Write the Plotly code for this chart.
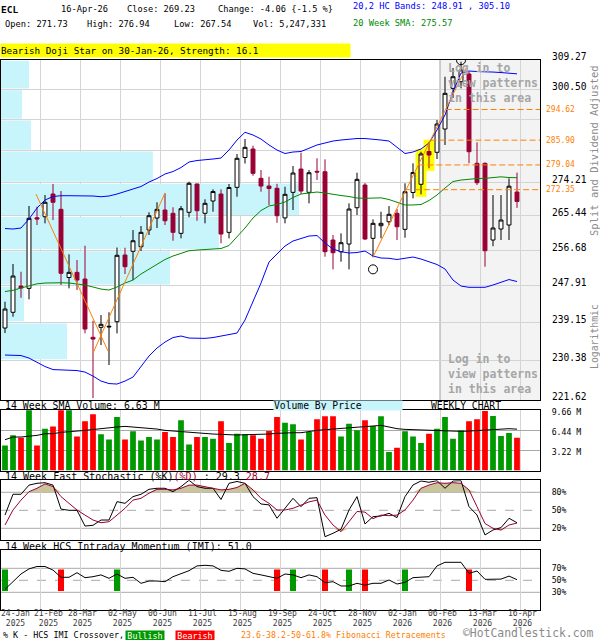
import math
import plotly.graph_objects as go

# ---------------- data ----------------
tick_dates = ["24-Jan", "21-Feb", "28-Mar", "02-May", "06-Jun", "11-Jul", "15-Aug",
              "19-Sep", "24-Oct", "28-Nov", "02-Jan", "06-Feb", "13-Mar", "16-Apr"]
tick_years = ["2025"] * 10 + ["2026"] * 4

opens = [237.82, 241.51, 247.81, 247.25, 264.97, 265.23, 271.20, 267.16, 249.89, 251.16,
         249.52, 235.66, 237.98, 238.05, 239.29, 255.46, 256.39, 257.54, 261.79, 264.89,
         266.98, 266.12, 260.95, 266.38, 273.87, 266.12, 269.35, 271.20, 261.20, 272.98,
         281.08, 283.43, 275.40, 273.33, 272.72, 264.92, 271.65, 277.92, 271.65, 277.30,
         277.19, 259.24, 256.29, 258.23, 267.58, 273.60, 259.67, 262.90, 263.93, 266.12,
         261.97, 271.60, 273.79, 282.74, 282.52, 289.04, 300.80, 302.76, 305.05, 279.49,
         279.49, 259.24, 262.05, 263.08, 271.73]
highs = [244.03, 253.22, 251.31, 268.03, 267.85, 270.94, 273.87, 271.99, 255.64, 254.21,
         257.80, 239.53, 240.87, 241.51, 257.34, 257.29, 261.79, 262.82, 266.38, 269.01,
         271.39, 267.69, 268.03, 274.48, 274.00, 269.80, 272.45, 272.45, 273.87, 282.05,
         286.22, 284.35, 277.65, 275.84, 273.95, 273.14, 278.74, 282.40, 277.65, 280.86,
         280.58, 260.52, 260.95, 268.74, 276.92, 274.14, 264.55, 266.54, 268.03, 267.24,
         274.06, 279.49, 282.68, 285.30, 291.60, 304.24, 306.85, 308.76, 305.74, 285.30,
         279.71, 270.94, 270.94, 275.40, 276.94]
lows = [236.65, 240.47, 244.98, 244.60, 263.08, 263.52, 264.37, 248.06, 247.25, 246.84,
        236.58, 222.04, 233.88, 229.35, 236.58, 250.75, 249.27, 256.46, 260.52, 262.31,
        263.08, 259.06, 259.67, 265.08, 264.19, 263.52, 266.54, 258.41, 259.67, 270.48,
        279.43, 276.10, 271.81, 268.30, 263.67, 263.52, 266.98, 271.20, 268.74, 274.94,
        255.04, 251.90, 253.79, 251.90, 265.68, 259.24, 254.89, 259.67, 263.08, 259.24,
        259.83, 270.06, 271.12, 278.12, 280.67, 284.55, 297.96, 300.80, 279.49, 273.60,
        252.55, 257.67, 259.24, 259.24, 267.54]
closes = [242.29, 250.25, 247.33, 264.81, 264.63, 269.01, 269.01, 250.92, 251.16, 249.27,
          237.58, 235.26, 238.68, 238.21, 255.39, 252.55, 259.06, 261.20, 265.49, 267.16,
          264.19, 261.20, 267.32, 274.06, 266.80, 268.74, 271.86, 260.77, 272.93, 280.86,
          283.90, 276.75, 273.33, 272.66, 265.49, 271.12, 276.84, 271.99, 276.92, 277.11,
          256.29, 256.04, 258.56, 267.24, 275.13, 259.50, 263.52, 263.52, 265.86, 262.64,
          271.81, 276.97, 282.05, 281.77, 290.46, 299.33, 304.24, 306.25, 282.68, 274.22,
          256.54, 262.31, 264.37, 273.29, 269.23]

upper_band = [262.18, 262.05, 262.31, 264.63, 267.50, 269.61, 270.54, 270.75, 270.75, 270.75,
              270.75, 270.67, 270.48, 270.67, 271.20, 271.86, 272.53, 273.20, 274.40, 275.35,
              276.57, 277.24, 278.33, 279.84, 280.25, 280.39, 280.67, 280.94, 283.15, 285.94,
              288.11, 287.35, 286.22, 284.55, 283.15, 282.18, 282.60, 282.74, 283.71, 284.55,
              285.10, 285.66, 285.94, 286.22, 286.36, 286.36, 286.22, 285.94, 285.66, 283.99,
              282.18, 282.60, 283.43, 285.10, 288.76, 293.04, 299.71, 305.34, 305.94, 305.79,
              305.79, 305.64, 305.49, 305.34, 305.10]
lower_band = [231.61, 231.61, 231.49, 230.92, 230.02, 229.01, 228.33, 228.22, 228.22, 228.11,
              227.77, 226.88, 225.77, 225.22, 225.11, 225.77, 226.66, 229.12, 231.38, 233.20,
              234.57, 235.61, 235.96, 235.49, 235.42, 235.42, 235.61, 235.96, 236.19, 236.65,
              239.69, 243.95, 248.54, 253.71, 255.71, 257.72, 258.99, 259.67, 260.26, 260.39,
              258.48, 256.96, 256.29, 255.96, 256.09, 256.46, 255.21, 254.71, 254.64, 254.34,
              254.59, 254.96, 254.46, 253.84, 253.10, 251.98, 249.27, 247.81, 247.50, 247.50,
              247.50, 248.06, 248.78, 249.39, 248.91]
sma20 = [246.48, 246.77, 247.33, 247.93, 248.35, 248.54, 248.61, 248.61, 248.54, 248.35,
         248.06, 247.57, 247.08, 246.84, 247.57, 248.54, 249.27, 250.75, 251.98, 253.09,
         254.34, 255.21, 255.96, 256.54, 256.71, 256.84, 256.89, 257.09, 257.85, 260.02,
         262.31, 264.89, 266.85, 268.03, 268.43, 269.08, 270.27, 271.20, 271.47, 271.73,
         271.47, 271.07, 270.80, 270.54, 270.14, 270.06, 270.14, 270.19, 269.74, 268.95,
         268.30, 268.30, 268.43, 269.48, 270.94, 272.80, 274.54, 274.94, 275.21, 275.35,
         275.40, 275.62, 275.81, 275.62, 275.57]

volume_m = [4.03, 5.64, 5.26, 9.9, 4.03, 6.71, 7.08, 10.3, 10.0, 5.47,
            7.89, 9.02, 5.80, 4.99, 8.58, 4.99, 6.28, 4.83, 5.36, 4.99,
            6.17, 5.36, 8.05, 4.19, 5.36, 5.36, 5.10, 7.89, 4.40, 5.90,
            5.80, 5.64, 5.10, 6.33, 8.58, 7.67, 7.41, 4.99, 6.17, 8.21,
            8.69, 8.69, 5.47, 7.51, 6.44, 8.05, 7.14, 8.69, 2.95, 3.65,
            6.28, 5.47, 4.40, 5.90, 6.71, 8.58, 5.10, 6.44, 7.89, 8.21,
            9.55, 8.74, 5.52, 6.01, 5.25]
vol_sma_m = [4.94, 5.37, 5.37, 5.47, 5.64, 5.90, 5.90, 6.12, 6.17, 6.33,
             6.44, 6.60, 6.71, 6.82, 6.98, 7.08, 6.98, 6.87, 6.76, 6.65,
             6.44, 6.33, 6.17, 6.06, 5.96, 5.90, 5.85, 5.80, 5.69, 5.69,
             5.74, 5.74, 5.74, 5.85, 5.96, 6.06, 6.06, 6.06, 6.28, 6.44,
             6.55, 6.65, 6.71, 6.82, 6.98, 7.08, 7.19, 7.24, 6.98, 6.71,
             6.60, 6.55, 6.44, 6.39, 6.33, 6.28, 6.28, 6.28, 6.33, 6.39,
             6.44, 6.55, 6.55, 6.71, 6.63]
vol_ticks_m = [3.22, 6.44, 9.66]

stoch_k = [42, 76.7, 76.7, 92, 95, 96, 92, 52, 50, 50,
           23.8, 25, 33.8, 33.8, 64.4, 61.6, 72.8, 76.7, 85, 86.7,
           86.7, 81, 89.5, 100, 89.5, 86.7, 86.7, 68, 95, 98,
           95, 72.8, 60.5, 59, 36.7, 53.3, 70, 56, 70, 71,
           6, 11.7, 18.3, 50.5, 72.8, 27.2, 39.4, 40.5, 45, 37.8,
           72.8, 92.2, 98.9, 96.7, 99.4, 86.7, 98.9, 99.4, 56.1, 42.2,
           8.9, 17.2, 21.1, 36.7, 29.3]
stoch_d = [25.5, 50.5, 67, 81, 86.7, 94, 89.5, 72.8, 61.6, 50.5,
           42, 33.8, 29.3, 31, 42, 53.3, 67, 70, 78.4, 85,
           85, 84, 86.7, 92, 92, 89.5, 86.7, 84, 85, 88,
           95, 84, 70, 61.6, 50.5, 50.5, 53.3, 58, 64, 67,
           42, 25.5, 14.4, 31, 48, 47, 36, 42, 41, 42,
           50.5, 67, 86.7, 92, 96, 95, 96, 95, 84, 56,
           28, 20, 17, 25.5, 28.7]
stoch_levels = [20, 50, 80]

imi = [35, 47.7, 60.5, 69, 73, 73, 67, 55, 55, 62.7,
       54.4, 56, 59, 53.3, 60.5, 53.3, 55, 45, 48.8, 48.8,
       47.7, 56, 60.5, 66, 74, 75, 74, 66.6, 65, 70,
       69, 61.6, 59, 56, 53.3, 60.5, 59, 54.4, 59, 56,
       46, 47.7, 40.5, 40.5, 45, 42, 45, 45, 50.5, 43.8,
       46.6, 54.4, 55, 56, 74, 80, 80, 80, 61.6, 65.5,
       51.6, 52, 52, 57, 51]
imi_levels = [30, 50, 70]
imi_bull_weeks = [0, 14, 36, 43, 50]
imi_bear_weeks = [7, 34, 40, 45, 58]
imi_cross_span = [32, 68]

price_grid = [309.27, 300.50, 291.74, 282.97, 274.21, 265.44, 256.68, 247.91, 239.15, 230.38, 221.62]
price_tick_text = ["309.27", "300.50", "", "", "274.21", "265.44", "256.68", "247.91", "239.15", "230.38", "221.62"]
vbp_volume_m = [11.7, 8.8, 12.5, 63.3, 124.2, 90.8, 70.4, 9.6, 27.5, 0.0]
VBP_FULL_SCALE_M = 224.6

fib_levels = [294.62, 285.90, 279.04, 272.35]
pattern_a_x, pattern_a_y = [3.875, 12.875], [271.20, 232.51]
pattern_b_x, pattern_b_y = [11.0, 20.0], [232.06, 271.47]
fib_swing_x, fib_swing_y = [46.0, 57.625], [254.96, 306.85]
pivot_x, pivot_y = [46, 57], [251.9, 309.2]
highlight_weeks = [52, 53]

# ---------------- styling ----------------
W, H = 600, 640
MONO = "DejaVu Sans Mono"
MAROON = "#990033"
CYAN = "#c8f4fc"
VGREEN = "#009900"
VRED = "#ff0000"
BLUE = "#0000ff"
SGREEN = "#008800"
ORANGE = "#ff8000"
TAN = "#c9c49b"
GRID = "#d4d4d4"
GRID_DARK = "#a8a8a8"

N = len(closes)
weeks = list(range(N))
X0, X1 = -0.5, 66.875
label_pos = [-0.625 + 5 * j for j in range(len(tick_dates))]
grid_x = label_pos[1:]
LOGIN_J = 11
main_grid_x = [g for g in grid_x if g != label_pos[LOGIN_J]]

fig = go.Figure()

# --- main price panel ---
band_mid = [(price_grid[i] + price_grid[i + 1]) / 2 for i in range(len(vbp_volume_m))]
band_h = [(price_grid[i] - price_grid[i + 1]) * 0.94 for i in range(len(vbp_volume_m))]
vbp_len = [v / VBP_FULL_SCALE_M * (X1 - X0) for v in vbp_volume_m]
fig.add_trace(go.Bar(x=vbp_len, y=band_mid, width=band_h, base=X0, orientation="h",
                     marker=dict(color=CYAN, line=dict(width=0)), hoverinfo="skip",
                     xaxis="x", yaxis="y"))

hl_lo = [lows[k] / 1.0025 for k in highlight_weeks]
hl_hi = [highs[k] * 1.0025 for k in highlight_weeks]
fig.add_trace(go.Bar(x=highlight_weeks, y=[h - l for h, l in zip(hl_hi, hl_lo)], base=hl_lo,
                     width=1.375, marker=dict(color="#ffff00", line=dict(width=0)),
                     hoverinfo="skip", xaxis="x", yaxis="y"))

fig.add_trace(go.Candlestick(
    x=weeks, open=opens, high=highs, low=lows, close=closes,
    increasing=dict(line=dict(color="black", width=1), fillcolor="white"),
    decreasing=dict(line=dict(color=MAROON, width=1), fillcolor=MAROON),
    whiskerwidth=0, hoverinfo="skip", xaxis="x", yaxis="y"))

for series, col in [(upper_band, BLUE), (lower_band, BLUE), (sma20, SGREEN)]:
    fig.add_trace(go.Scatter(x=weeks, y=series, mode="lines", line=dict(color=col, width=1),
                             hoverinfo="skip", xaxis="x", yaxis="y"))

for px_, py_ in [(pattern_a_x, pattern_a_y), (pattern_b_x, pattern_b_y), (fib_swing_x, fib_swing_y)]:
    fig.add_trace(go.Scatter(x=px_, y=py_, mode="lines", line=dict(color=ORANGE, width=1),
                             hoverinfo="skip", xaxis="x", yaxis="y"))

l0, l1 = math.log(fib_swing_y[0]), math.log(fib_swing_y[1])
for lv in fib_levels:
    t = (math.log(lv) - l0) / (l1 - l0)
    xs = fib_swing_x[0] + t * (fib_swing_x[1] - fib_swing_x[0])
    fig.add_trace(go.Scatter(x=[xs, X1], y=[lv, lv], mode="lines",
                             line=dict(color=ORANGE, width=1, dash="6px,3px"),
                             hoverinfo="skip", xaxis="x", yaxis="y"))

fig.add_trace(go.Scatter(x=pivot_x, y=pivot_y, mode="markers",
                         marker=dict(symbol="circle-open", size=9, color="black", line=dict(width=1)),
                         hoverinfo="skip", xaxis="x", yaxis="y"))

# --- volume panel ---
vol_colors = [VGREEN if c >= o else VRED for o, c in zip(opens, closes)]
fig.add_trace(go.Bar(x=weeks, y=volume_m, width=0.72, marker=dict(color=vol_colors, line=dict(width=0)),
                     hoverinfo="skip", xaxis="x2", yaxis="y2"))
fig.add_trace(go.Scatter(x=weeks, y=vol_sma_m, mode="lines", line=dict(color="black", width=1),
                         hoverinfo="skip", xaxis="x2", yaxis="y2"))

# --- stochastic panel ---
hi_lv, lo_lv = stoch_levels[2], stoch_levels[0]
fig.add_trace(go.Scatter(x=weeks, y=[hi_lv] * N, mode="lines", line=dict(width=0), hoverinfo="skip",
                         xaxis="x3", yaxis="y3"))
fig.add_trace(go.Scatter(x=weeks, y=[max(d, hi_lv) for d in stoch_d], mode="lines", line=dict(width=0),
                         fill="tonexty", fillcolor=TAN, hoverinfo="skip", xaxis="x3", yaxis="y3"))
fig.add_trace(go.Scatter(x=weeks, y=[lo_lv] * N, mode="lines", line=dict(width=0), hoverinfo="skip",
                         xaxis="x3", yaxis="y3"))
fig.add_trace(go.Scatter(x=weeks, y=[min(d, lo_lv) for d in stoch_d], mode="lines", line=dict(width=0),
                         fill="tonexty", fillcolor=TAN, hoverinfo="skip", xaxis="x3", yaxis="y3"))
fig.add_trace(go.Scatter(x=weeks, y=stoch_k, mode="lines", line=dict(color="black", width=1),
                         hoverinfo="skip", xaxis="x3", yaxis="y3"))
fig.add_trace(go.Scatter(x=weeks, y=stoch_d, mode="lines", line=dict(color=MAROON, width=1),
                         hoverinfo="skip", xaxis="x3", yaxis="y3"))

# --- IMI panel ---
span = imi_cross_span[1] - imi_cross_span[0]
fig.add_trace(go.Bar(x=imi_bull_weeks, y=[span] * len(imi_bull_weeks), base=imi_cross_span[0], width=0.75,
                     marker=dict(color=VGREEN, line=dict(width=0)), hoverinfo="skip", xaxis="x4", yaxis="y4"))
fig.add_trace(go.Bar(x=imi_bear_weeks, y=[span] * len(imi_bear_weeks), base=imi_cross_span[0], width=0.75,
                     marker=dict(color=VRED, line=dict(width=0)), hoverinfo="skip", xaxis="x4", yaxis="y4"))
fig.add_trace(go.Scatter(x=weeks, y=imi, mode="lines", line=dict(color="black", width=1),
                         hoverinfo="skip", xaxis="x4", yaxis="y4"))

# ---------------- shapes ----------------
shapes = [
    dict(type="rect", xref="x", yref="y domain", x0=label_pos[LOGIN_J], x1=X1, y0=0, y1=1,
         fillcolor="#f3f3f3", line=dict(width=0), layer="below"),
    dict(type="line", xref="x", yref="y domain", x0=label_pos[LOGIN_J], x1=label_pos[LOGIN_J], y0=0, y1=1,
         line=dict(color="#a0a0a0", width=1), layer="below"),
]
for ax, levels in [("3", stoch_levels), ("4", imi_levels)]:
    for i, lv in enumerate(levels):
        shapes.append(dict(type="line", xref="x" + ax, yref="y" + ax, x0=X0, x1=X1, y0=lv, y1=lv,
                           line=dict(color=GRID_DARK, width=1, dash="dash" if i == 1 else "solid"),
                           layer="below"))

# ---------------- annotations ----------------
def A(x, y, text, size=8.7, color="black", **kw):
    d = dict(x=x / W, y=1 - y / H, xref="paper", yref="paper", text=text, showarrow=False,
             xanchor="left", yanchor="middle", borderpad=0,
             font=dict(family=MONO, size=size, color=color))
    d.update(kw)
    return d

chg = closes[-1] - closes[-2]
pct = chg / closes[-2] * 100
ann = [
    A(0, 9.3, "<b>ECL</b>", size=9.5),
    A(60, 9.3, "16-Apr-26"),
    A(126, 9.3, "Close: %.2f" % closes[-1]),
    A(217, 9.3, "Change: %.2f {%.1f %%}" % (chg, pct)),
    A(352, 6.5, "20,2 HC Bands: %.2f , %.2f" % (lower_band[-1], upper_band[-1]), color=BLUE),
    A(4, 24.3, "Open: %.2f" % opens[-1]),
    A(86, 24.3, "High: %.2f" % highs[-1]),
    A(173, 24.3, "Low: %.2f" % lows[-1]),
    A(252, 24.3, "Vol: 5,247,331"),
    A(352, 22.5, "20 Week SMA: %.2f" % sma20[-1], color=SGREEN),
    A(0, 50, "Bearish Doji Star on 30-Jan-26, Strength: 16.1", size=9.3, bgcolor="#ffff00",
      width=349, height=13, align="left"),
    A(447, 82.5, "<b>Log in to<br>view patterns<br>in this area</b>", size=11.5, color="#a6a6a6", align="left"),
    A(447, 374, "<b>Log in to<br>view patterns<br>in this area</b>", size=11.5, color="#a6a6a6", align="left"),
    A(594, 151, "Split and Dividend Adjusted", size=10.5, color="#8c8c8c", textangle=-90, xanchor="center"),
    A(594, 337, "Logarithmic", size=9.8, color="#8c8c8c", textangle=-90, xanchor="center"),
    A(4, 405.5, "14 Week SMA Volume: %.2f M" % vol_sma_m[-1], size=9.9),
    A(273, 405.5, "Volume By Price", size=9.7, bgcolor=CYAN, width=128, height=9, align="left"),
    A(430, 405.5, "WEEKLY CHART", size=9.7),
    A(4, 476, "14 Week Fast Stochastic (%%K)<span style='color:%s'>(%%D)</span> : %.1f "
              "<span style='color:%s'>%.1f</span>" % (MAROON, stoch_k[-1], MAROON, stoch_d[-1]), size=10),
    A(4, 546, "14 Week HCS Intraday Momentum (IMI): %.1f" % imi[-1], size=10),
    A(2, 635, "% K - HCS IMI Crossover,", size=8.4),
    A(125, 635, "Bullish", size=8.4, color="white", bgcolor=VGREEN, width=38, height=9, align="center"),
    A(175, 635, "Bearish", size=8.4, color="white", bgcolor=VRED, width=38, height=9, align="center"),
    A(240, 635, "23.6-38.2-50-61.8% Fibonacci Retracements", size=8.3, color=ORANGE),
    A(462, 633.3, "©HotCandlestick.com", size=11.4, color="#8a8a8a"),
]
for lv in fib_levels:
    ann.append(dict(x=545 / W, xref="paper", y=math.log10(lv), yref="y", text="%.2f" % lv,
                    showarrow=False, xanchor="left", yanchor="middle", borderpad=0,
                    font=dict(family=MONO, size=8, color=ORANGE)))
for j, (d, yr) in enumerate(zip(tick_dates, tick_years)):
    txt = "%s<br>%s" % (d, yr)
    if j == 0:
        ann.append(A(0, 618.5, txt, size=8, color="#3a3a3a", align="center"))
    else:
        ann.append(dict(x=label_pos[j], xref="x4", y=1 - 618.5 / H, yref="paper", text=txt, showarrow=False,
                        xanchor="center", yanchor="middle", xshift=8 if j == 1 else 2, borderpad=0,
                        align="center", font=dict(family=MONO, size=8, color="#3a3a3a")))

# ---------------- layout ----------------
xdom = [1 / W, 540 / W]
def xax(anchor, tv, **kw):
    d = dict(domain=xdom, range=[X0, X1], anchor=anchor, tickmode="array", tickvals=tv,
             showticklabels=False, ticks="", showgrid=True, gridcolor=GRID, gridwidth=1,
             zeroline=False, showline=True, linecolor="black", linewidth=1, mirror=True,
             rangeslider=dict(visible=False), automargin=False)
    d.update(kw)
    return d

def ydom(top_px, bot_px):
    return [1 - bot_px / H, 1 - top_px / H]

yfont = dict(family=MONO, size=8.2, color="black")
fig.update_layout(
    width=W, height=H, autosize=False,
    margin=dict(l=0, r=0, t=0, b=0, pad=0, autoexpand=False),
    paper_bgcolor="white", plot_bgcolor="white", showlegend=False, barmode="overlay",
    font=dict(family=MONO, color="black"), hovermode=False,
    xaxis=xax("y", main_grid_x), xaxis2=xax("y2", grid_x, matches="x"),
    xaxis3=xax("y3", grid_x, matches="x"), xaxis4=xax("y4", grid_x, matches="x"),
    yaxis=dict(domain=ydom(60, 400), type="log", range=[math.log10(price_grid[-1]), math.log10(price_grid[0])],
               anchor="x", side="right", tickmode="array", tickvals=price_grid, ticktext=price_tick_text,
               ticks="", ticklabelstandoff=9, ticklabelshift=-3, automargin=False,
               tickfont=dict(family=MONO, size=9.6, color="black"),
               showgrid=True, gridcolor=GRID, zeroline=False, showline=True, linecolor="black",
               linewidth=1, mirror=True),
    yaxis2=dict(domain=ydom(410.3, 470.5), range=[0, vol_ticks_m[-1]], anchor="x2", side="right",
                tickmode="array", tickvals=vol_ticks_m, ticktext=["%.2f M" % v for v in vol_ticks_m],
                ticks="", ticklabelstandoff=9, ticklabelshift=2, automargin=False, tickfont=yfont, showgrid=True,
                gridcolor=GRID_DARK, zeroline=False, showline=True, linecolor="black", linewidth=1, mirror=True),
    yaxis3=dict(domain=ydom(480.3, 540.3), range=[0, 100], anchor="x3", side="right",
                tickmode="array", tickvals=stoch_levels, ticktext=["%d%%" % v for v in stoch_levels],
                ticks="", ticklabelstandoff=9, automargin=False, tickfont=yfont, showgrid=False, zeroline=False,
                showline=True, linecolor="black", linewidth=1, mirror=True),
    yaxis4=dict(domain=ydom(550.3, 610.3), range=[0, 100], anchor="x4", side="right",
                tickmode="array", tickvals=imi_levels, ticktext=["%d%%" % v for v in imi_levels],
                ticks="", ticklabelstandoff=9, automargin=False, tickfont=yfont, showgrid=False, zeroline=False,
                showline=True, linecolor="black", linewidth=1, mirror=True),
    shapes=shapes, annotations=ann,
)

fig.write_html("out.html", config={"displayModeBar": False, "responsive": False},
               post_script="document.body.style.margin='0';document.body.style.padding='0';")
